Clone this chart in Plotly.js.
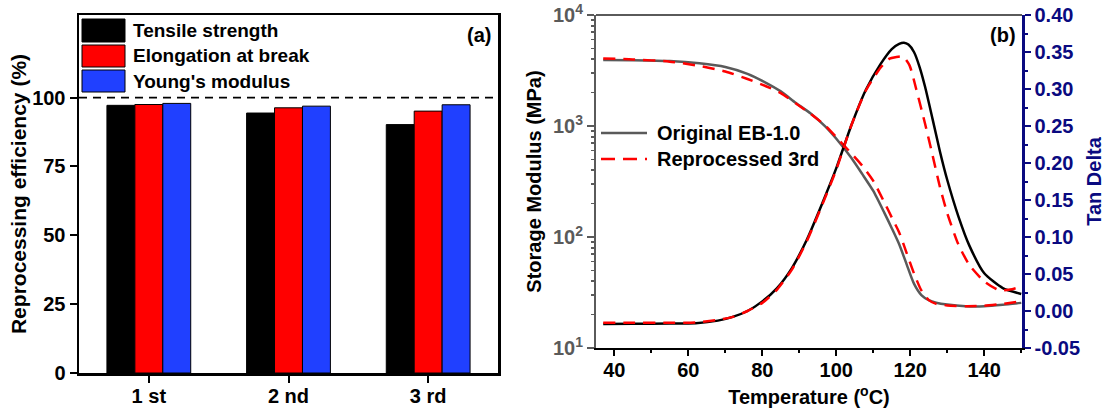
<!DOCTYPE html>
<html>
<head>
<meta charset="utf-8">
<script src="https://cdn.plot.ly/plotly-3.0.1.min.js"></script>
<style>html,body{margin:0;padding:0;background:#fff;}#chart{width:1107px;height:415px;}</style>
</head>
<body>
<div id="chart"></div>
<script>
// ---------- data: panel (a) ----------
const categories = ['1 st', '2 nd', '3 rd'];
const tensileStrength = [97.2, 94.4, 90.2];
const elongationAtBreak = [97.5, 96.3, 95.1];
const youngsModulus = [97.9, 96.9, 97.4];
const seriesNamesA = ['Tensile strength', 'Elongation at break', "Young's modulus"];
const yTicksA = [0, 25, 50, 75, 100];
const referenceLevel = 100;

// ---------- data: panel (b) ----------
const tempStorage = [37, 45, 55, 63, 70, 76, 81, 85, 89, 93, 97, 101, 104, 107, 110, 113, 115, 117, 119, 121, 123, 125, 127, 130, 135, 140, 145, 150];
const storageOriginal = [3940, 3920, 3850, 3670, 3400, 2950, 2450, 2050, 1620, 1300, 990, 700, 520, 370, 260, 165, 120, 86, 57, 38, 30, 27, 25.6, 24.6, 23.8, 23.8, 24.5, 25.5];
const storageReprocessed = [4050, 3980, 3800, 3480, 3100, 2650, 2280, 1980, 1600, 1290, 1010, 730, 570, 440, 320, 205, 150, 110, 72, 47, 33, 27, 25, 24.2, 23.8, 24.0, 25.0, 26.3];

const tempTanOriginal = [37, 45, 55, 62, 68, 72, 76, 80, 84, 88, 92, 96, 100, 104, 108, 112, 115, 117, 118.3, 119.5, 121, 122.5, 124, 126, 128, 130, 133, 136, 140, 145, 150];
const tanOriginal = [-0.0175, -0.0172, -0.017, -0.0165, -0.013, -0.008, 0.000, 0.013, 0.031, 0.058, 0.096, 0.143, 0.193, 0.250, 0.299, 0.334, 0.354, 0.361, 0.3625, 0.360, 0.350, 0.330, 0.303, 0.260, 0.216, 0.177, 0.128, 0.088, 0.051, 0.031, 0.023];
const tempTanReprocessed = [37, 45, 55, 62, 68, 72, 76, 80, 84, 88, 92, 96, 100, 104, 108, 112, 114.4, 116, 118, 119.8, 121.6, 124, 126, 128, 130, 133, 136, 140, 144, 147, 150];
const tanReprocessed = [-0.016, -0.016, -0.016, -0.0155, -0.012, -0.008, 0.000, 0.011, 0.029, 0.056, 0.094, 0.141, 0.191, 0.250, 0.298, 0.329, 0.341, 0.343, 0.344, 0.332, 0.300, 0.253, 0.211, 0.168, 0.132, 0.090, 0.062, 0.040, 0.028, 0.029, 0.033];

const seriesNamesB = ['Original EB-1.0', 'Reprocessed 3rd'];
const modulusTickVals = [10, 100, 1000, 10000];
const modulusTickText = ['10<sup>1</sup>', '10<sup>2</sup>', '10<sup>3</sup>', '10<sup>4</sup>'];
const modulusMinorVals = [20,30,40,50,60,70,80,90,200,300,400,500,600,700,800,900,2000,3000,4000,5000,6000,7000,8000,9000];
const tanTickVals = [-0.05, 0, 0.05, 0.10, 0.15, 0.20, 0.25, 0.30, 0.35, 0.40];
const tanTickText = ['-0.05', '0.00', '0.05', '0.10', '0.15', '0.20', '0.25', '0.30', '0.35', '0.40'];

// ---------- layout helpers ----------
const W = 1107, H = 415;
const px = v => v / W;
const py = v => 1 - v / H;
const FONT = 'Liberation Sans, Arial, Helvetica, sans-serif';
const f = (size, color) => ({family: FONT, size: size, color: color || '#000', weight: 'bold'});
const GRAY = '#5a5a5a';
const NAVY = '#0a0a80';
const barColors = ['#000000', '#ff0000', '#2040ff'];

const traces = [
  {type: 'bar', x: categories, y: tensileStrength, name: seriesNamesA[0], xaxis: 'x', yaxis: 'y',
   marker: {color: barColors[0], line: {color: '#000', width: 1}}, showlegend: false},
  {type: 'bar', x: categories, y: elongationAtBreak, name: seriesNamesA[1], xaxis: 'x', yaxis: 'y',
   marker: {color: barColors[1], line: {color: '#000', width: 1}}, showlegend: false},
  {type: 'bar', x: categories, y: youngsModulus, name: seriesNamesA[2], xaxis: 'x', yaxis: 'y',
   marker: {color: barColors[2], line: {color: '#000', width: 1}}, showlegend: false},
  {type: 'scatter', mode: 'lines', x: tempStorage, y: storageOriginal, name: seriesNamesB[0] + ' E\'',
   xaxis: 'x2', yaxis: 'y2', line: {color: GRAY, width: 2.5, shape: 'spline', smoothing: 0.6}, showlegend: false},
  {type: 'scatter', mode: 'lines', x: tempTanOriginal, y: tanOriginal, name: seriesNamesB[0] + ' tanδ',
   xaxis: 'x2', yaxis: 'y3', line: {color: '#000', width: 2.5, shape: 'spline', smoothing: 0.6}, showlegend: false},
  {type: 'scatter', mode: 'lines', x: tempStorage, y: storageReprocessed, name: seriesNamesB[1] + ' E\'',
   xaxis: 'x2', yaxis: 'y2', line: {color: '#ff0000', width: 2.5, dash: '12px,8px', shape: 'spline', smoothing: 0.6}, showlegend: false},
  {type: 'scatter', mode: 'lines', x: tempTanReprocessed, y: tanReprocessed, name: seriesNamesB[1] + ' tanδ',
   xaxis: 'x2', yaxis: 'y3', line: {color: '#ff0000', width: 2.5, dash: '12px,8px', shape: 'spline', smoothing: 0.6}, showlegend: false}
];

const shapes = [
  {type: 'line', xref: 'x domain', yref: 'y', x0: 0, x1: 1, y0: referenceLevel, y1: referenceLevel,
   line: {color: '#000', width: 1.8, dash: '8px,6px'}},
  {type: 'line', xref: 'x2 domain', yref: 'y2 domain', x0: 0, x1: 1, y0: 1, y1: 1,
   line: {color: GRAY, width: 2}},
  {type: 'rect', xref: 'paper', yref: 'paper', x0: px(82), x1: px(125), y0: py(42), y1: py(19),
   fillcolor: barColors[0], line: {color: '#000', width: 1}},
  {type: 'rect', xref: 'paper', yref: 'paper', x0: px(82), x1: px(125), y0: py(67), y1: py(45),
   fillcolor: barColors[1], line: {color: '#000', width: 1}},
  {type: 'rect', xref: 'paper', yref: 'paper', x0: px(82), x1: px(125), y0: py(92), y1: py(70),
   fillcolor: barColors[2], line: {color: '#000', width: 1}},
  {type: 'line', xref: 'paper', yref: 'paper', x0: px(601), x1: px(647), y0: py(133), y1: py(133),
   line: {color: GRAY, width: 2.5}},
  {type: 'line', xref: 'paper', yref: 'paper', x0: px(601), x1: px(647), y0: py(159), y1: py(159),
   line: {color: '#ff0000', width: 2.5, dash: '14px,8px'}}
];

const annotations = [
  {xref: 'paper', yref: 'paper', x: px(131), y: py(30.5), text: seriesNamesA[0], showarrow: false, xanchor: 'left', yanchor: 'middle', font: f(19)},
  {xref: 'paper', yref: 'paper', x: px(131), y: py(56), text: seriesNamesA[1], showarrow: false, xanchor: 'left', yanchor: 'middle', font: f(19)},
  {xref: 'paper', yref: 'paper', x: px(131), y: py(81), text: seriesNamesA[2], showarrow: false, xanchor: 'left', yanchor: 'middle', font: f(19)},
  {xref: 'paper', yref: 'paper', x: px(493), y: py(35), text: '(a)', showarrow: false, xanchor: 'right', yanchor: 'middle', font: f(20)},
  {xref: 'paper', yref: 'paper', x: px(1018), y: py(35), text: '(b)', showarrow: false, xanchor: 'right', yanchor: 'middle', font: f(20)},
  {xref: 'paper', yref: 'paper', x: px(655), y: py(133), text: seriesNamesB[0], showarrow: false, xanchor: 'left', yanchor: 'middle', font: f(20)},
  {xref: 'paper', yref: 'paper', x: px(655), y: py(159), text: seriesNamesB[1], showarrow: false, xanchor: 'left', yanchor: 'middle', font: f(20)}
];

const layout = {
  width: W, height: H,
  margin: {l: 0, r: 0, t: 0, b: 0},
  paper_bgcolor: '#fff', plot_bgcolor: 'rgba(0,0,0,0)',
  font: f(20),
  showlegend: false,
  barmode: 'group', bargap: 0.4, bargroupgap: 0,
  xaxis: {
    domain: [px(79), px(498)], anchor: 'y', type: 'category', range: [-0.5, 2.5],
    showline: true, linecolor: '#000', linewidth: 2.5, mirror: true,
    ticks: 'outside', ticklen: 7, tickwidth: 2, tickcolor: '#000', ticklabelstandoff: -4,
    tickfont: f(20), showgrid: false, zeroline: false
  },
  yaxis: {
    domain: [py(373), py(15)], anchor: 'x', range: [0, 130],
    tickvals: yTicksA, ticktext: yTicksA.map(String),
    showline: true, linecolor: '#000', linewidth: 2.5, mirror: true,
    ticks: 'outside', ticklen: 7, tickwidth: 2, tickcolor: '#000',
    tickfont: f(20), showgrid: false, zeroline: false,
    title: {text: 'Reprocessing efficiency (%)', font: f(21), standoff: 0}
  },
  xaxis2: {
    domain: [px(596), px(1022)], anchor: 'y2', range: [35.05, 150.2],
    tickmode: 'linear', tick0: 0, dtick: 20,
    showline: true, linecolor: '#000', linewidth: 2,
    ticks: 'outside', ticklen: 6, tickwidth: 2, tickcolor: '#000', ticklabelstandoff: -3,
    minor: {tickmode: 'linear', tick0: 0, dtick: 10, ticks: 'outside', ticklen: 3, tickwidth: 2, tickcolor: '#000', showgrid: false},
    tickfont: f(20), showgrid: false, zeroline: false,
    title: {text: 'Temperature (<sup>o</sup>C)', font: f(20), standoff: 10}
  },
  yaxis2: {
    domain: [py(348), py(15)], anchor: 'x2', type: 'log', range: [1, 4],
    tickmode: 'array', tickvals: modulusTickVals, ticktext: modulusTickText,
    showline: true, linecolor: GRAY, linewidth: 2,
    ticks: 'outside', ticklen: 7, tickwidth: 2, tickcolor: GRAY,
    minor: {tickmode: 'array', tickvals: modulusMinorVals, ticks: 'outside', ticklen: 3, tickwidth: 1.5, tickcolor: GRAY, showgrid: false},
    tickfont: f(20, GRAY), showgrid: false, zeroline: false,
    title: {text: 'Storage Modulus (MPa)', font: f(20), standoff: 6}
  },
  yaxis3: {
    domain: [py(348), py(15)], anchor: 'x2', overlaying: 'y2', side: 'right', range: [-0.05, 0.40],
    tickmode: 'array', tickvals: tanTickVals, ticktext: tanTickText,
    showline: true, linecolor: NAVY, linewidth: 2.5,
    ticks: 'outside', ticklen: 6, tickwidth: 2, tickcolor: NAVY,
    minor: {tickmode: 'linear', tick0: -0.025, dtick: 0.05, ticks: 'outside', ticklen: 3, tickwidth: 2, tickcolor: NAVY, showgrid: false},
    tickfont: f(20, NAVY), showgrid: false, zeroline: false,
    title: {text: 'Tan Delta', font: f(20, NAVY), standoff: 8}
  },
  shapes: shapes,
  annotations: annotations
};

Plotly.newPlot('chart', traces, layout, {staticPlot: true, displayModeBar: false});
</script>
</body>
</html>
